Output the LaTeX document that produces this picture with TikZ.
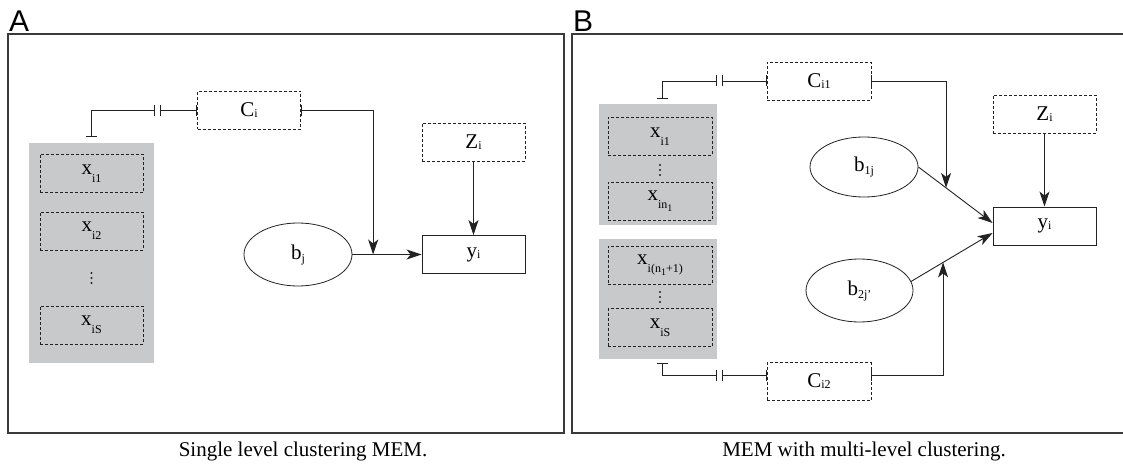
\documentclass[tikz,border=0pt]{standalone}
\usepackage{fontspec}
\setmainfont{Liberation Serif}
\newfontfamily\panelfont{Liberation Sans}
\usetikzlibrary{arrows.meta,shapes.geometric,calc}

\definecolor{ink}{HTML}{222222}
\definecolor{framegray}{HTML}{3A3A3A}
\definecolor{groupgray}{HTML}{C8C9CB}

% subscripts: at the baseline, slightly lowered, strongly lowered
\newcommand\sbl[1]{\raisebox{-1pt}{\fontsize{12}{12}\selectfont #1}}
\newcommand\smd[1]{\raisebox{-3pt}{\fontsize{12}{12}\selectfont #1}}
\newcommand\sdn[1]{\raisebox{-8pt}{\fontsize{12}{12}\selectfont #1}}
\newcommand\subone{\raisebox{-3pt}{\fontsize{10}{10}\selectfont 1}}

\tikzset{
  frame/.style={draw=framegray, line width=1.2pt},
  group/.style={fill=groupgray, draw=none, inner sep=0pt},
  dbox/.style={draw=ink, line width=0.8pt, dash pattern=on 3pt off 2pt,
    minimum width=103pt, minimum height=38pt, inner sep=0pt,
    font=\fontsize{21}{24}\selectfont},
  sbox/.style={draw=ink, line width=0.9pt,
    minimum width=103pt, minimum height=38pt, inner sep=0pt,
    font=\fontsize{21}{24}\selectfont},
  ell/.style={ellipse, draw=ink, line width=0.8pt, inner sep=0pt,
    font=\fontsize{21}{24}\selectfont},
  conn/.style={draw=ink, line width=0.9pt},
  arr/.style={conn, -{Stealth[length=15pt, width=10pt, inset=4pt]}},
  barbar/.style={conn, {Bar[width=11pt]}-{Bar[width=11pt]}},
  bararr/.style={conn, {Bar[width=11pt]}-{Stealth[length=15pt, width=10pt, inset=4pt]}},
  caption/.style={font=\fontsize{21}{24}\selectfont, inner sep=0pt, anchor=base},
  panel/.style={font=\panelfont\fontsize{30}{32}\selectfont, inner sep=0pt, anchor=base west},
  dot/.style={fill=ink}
}

\begin{document}
\begin{tikzpicture}[x=1pt, y=-1pt]
\useasboundingbox (0,0) rectangle (1123,465);

% ---------------- panel A: single level clustering ----------------
\node[panel] (labA) at (9,32) {A};
\draw[frame] (8,34) rectangle (564,433);

\node[group, minimum width=125pt, minimum height=220pt] (gA) at (91.5,253) {};
\node[dbox] (xA1) at (91.5,173.5) {x\sdn{i1}};
\node[dbox] (xA2) at (91.5,231) {x\sdn{i2}};
\foreach \yy in {273,278,283} \fill[dot] (91.5,\yy) circle (1.2pt);
\node[dbox] (xAS) at (91.5,325) {x\sdn{iS}};

\node[dbox] (CA) at (249,110.5) {C\sbl{i}};
\node[ell, minimum width=108pt, minimum height=63pt] (bj) at (298,254.5) {b\smd{j}};
\node[sbox] (yA) at (473.5,254.5) {y\sbl{i}};
\node[dbox] (ZA) at (473.5,142.5) {Z\sbl{i}};

\draw[barbar] ([yshift=6pt]gA.north) |- ([xshift=-42pt]CA.west);
\draw[barbar] ([xshift=-37pt]CA.west) -- (CA.west);
\draw[arr] (bj.east) -- coordinate[pos=0.3] (jA) (yA.west);
\draw[bararr] (CA.east) -| (jA);
\draw[arr] (ZA.south) -- (yA.north);

\node[caption] (capA) at (303,456.5) {Single level clustering MEM.};

% ---------------- panel B: multi-level clustering ----------------
\node[panel] (labB) at (573,32) {B};
\draw[frame] (572,34) rectangle (1125,433);

\node[group, minimum width=118pt, minimum height=121pt] (gB1) at (658,164.5) {};
\node[dbox, minimum width=104pt] (xB1) at (660,136.5) {x\sdn{i1}};
\foreach \yy in {165,170,175} \fill[dot] (660,\yy) circle (1.2pt);
\node[dbox, minimum width=104pt] (xBn) at (660,201) {x\sdn{in\subone}};

\node[group, minimum width=118pt, minimum height=120pt] (gB2) at (658,299) {};
\node[dbox, minimum width=104pt] (xBm) at (660,265) {x\sdn{i(n\subone+1)}};
\foreach \yy in {292,297,302} \fill[dot] (660,\yy) circle (1.2pt);
\node[dbox, minimum width=104pt] (xBS) at (660,327.5) {x\sdn{iS}};

\node[dbox, minimum width=104pt] (CB1) at (819,81) {C\sbl{i1}};
\node[dbox, minimum width=104pt] (CB2) at (819,381.5) {C\sbl{i2}};
\node[ell, minimum width=108pt, minimum height=60pt] (b1) at (864,167) {b\smd{1j}};
\node[ell, minimum width=107pt, minimum height=63pt] (b2) at (859.5,290.5) {b\smd{2j'}};
\node[sbox] (yB) at (1044.5,226) {y\sbl{i}};
\node[dbox] (ZB) at (1044.5,114) {Z\sbl{i}};

\draw[barbar] ([xshift=4pt, yshift=5pt]gB1.north) |- ([xshift=-50pt]CB1.west);
\draw[barbar] ([xshift=-45pt]CB1.west) -- (CB1.west);
\draw[barbar] ([xshift=4pt, yshift=-4pt]gB2.south) |- ([xshift=-50pt, yshift=6pt]CB2.west);
\draw[barbar] ([xshift=-45pt, yshift=6pt]CB2.west) -- ([yshift=6pt]CB2.west);

\draw[arr] (b1.east) -- coordinate[pos=0.373] (j1) ([yshift=3pt]yB.west);
\draw[arr] (b2.10) -- coordinate[pos=0.392] (j2) ([yshift=-7pt]yB.west);
\draw[bararr] (CB1.east) -| (j1);
\draw[bararr] ([yshift=6pt]CB2.east) -| (j2);
\draw[arr] (ZB.south) -- (yB.north);

\node[caption] (capB) at (864,456.5) {MEM with multi-level clustering.};
\end{tikzpicture}
\end{document}
